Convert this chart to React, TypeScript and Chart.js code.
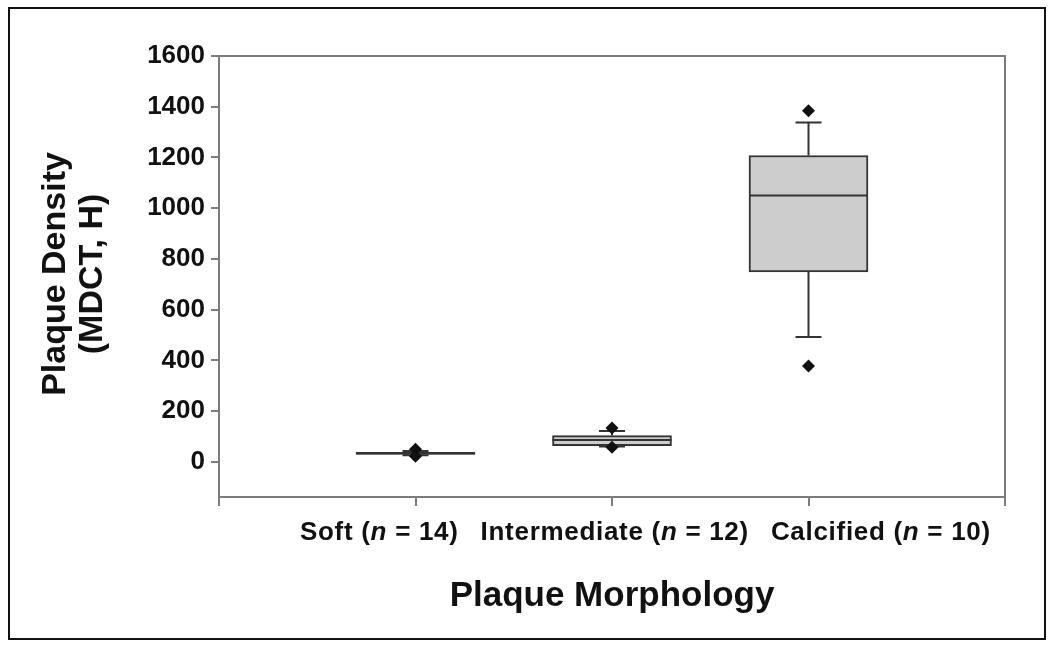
import React, { useEffect, useRef } from 'react';
import { Chart, registerables } from 'chart.js';

Chart.register(...registerables);

// ---- data ----
const categories = ['', 'Soft', 'Intermediate', 'Calcified', ''];
const sampleSizes = [null, 14, 12, 10, null];
const q1Values = [null, 30, 64, 749, null];
const q3Values = [null, 38, 104, 1208, null];
const medianValues = [null, 34, 87, 1050, null];
const whiskerLowValues = [null, 27, 61, 493, null];
const whiskerHighValues = [null, 43, 122, 1338, null];
const outlierCategories = ['Soft', 'Soft', 'Intermediate', 'Intermediate', 'Calcified', 'Calcified'];
const outlierValues = [50, 23, 134, 58, 1384, 378];
const yTickValues = [0, 200, 400, 600, 800, 1000, 1200, 1400, 1600];
const yAxisMin = -138;
const yAxisMax = 1600;
const yTitleLines = ['Plaque Density', '(MDCT, H)'];
const xTitle = 'Plaque Morphology';

const FONT = '"Liberation Sans", Arial, Helvetica, sans-serif';
const AXIS_GREY = '#7c7c7c';
const BOX_EDGE = '#333333';

const boxPlugin = {
  id: 'boxExtras',
  beforeDatasetsDraw(chart: any) {
    const { ctx } = chart;
    const x = chart.scales.x;
    const y = chart.scales.y;
    ctx.save();
    ctx.strokeStyle = BOX_EDGE;
    ctx.lineWidth = 2;
    for (let i = 0; i < categories.length; i++) {
      if (q1Values[i] == null) continue;
      const cx = x.getPixelForValue(i);
      const capHalf = 13;
      const pairs: [number, number][] = [
        [q3Values[i] as number, whiskerHighValues[i] as number],
        [q1Values[i] as number, whiskerLowValues[i] as number],
      ];
      for (const [from, to] of pairs) {
        const y0 = y.getPixelForValue(from);
        const y1 = y.getPixelForValue(to);
        ctx.beginPath();
        ctx.moveTo(cx, y0);
        ctx.lineTo(cx, y1);
        ctx.moveTo(cx - capHalf, y1);
        ctx.lineTo(cx + capHalf, y1);
        ctx.stroke();
      }
    }
    ctx.restore();
  },
  afterDatasetDraw(chart: any, args: any) {
    if (args.index !== 0) return;
    const { ctx } = chart;
    const x = chart.scales.x;
    const y = chart.scales.y;
    const meta = chart.getDatasetMeta(0);
    ctx.save();
    ctx.strokeStyle = BOX_EDGE;
    ctx.lineWidth = 2;
    for (let i = 0; i < categories.length; i++) {
      if (medianValues[i] == null) continue;
      const bar = meta.data[i];
      const half = bar.width / 2;
      const cx = x.getPixelForValue(i);
      const my = y.getPixelForValue(medianValues[i] as number);
      ctx.beginPath();
      ctx.moveTo(cx - half, my);
      ctx.lineTo(cx + half, my);
      ctx.stroke();
    }
    ctx.restore();
  },
  afterDraw(chart: any) {
    const { ctx, chartArea } = chart;
    ctx.save();
    // plot frame top & right
    ctx.strokeStyle = AXIS_GREY;
    ctx.lineWidth = 2;
    ctx.beginPath();
    ctx.moveTo(chartArea.left, chartArea.top);
    ctx.lineTo(chartArea.right, chartArea.top);
    ctx.lineTo(chartArea.right, chartArea.bottom);
    ctx.stroke();

    ctx.fillStyle = '#111111';
    // category labels with italic n
    const size = 26;
    let cursor = chartArea.left + 81;
    const baseY = chartArea.bottom + 43;
    ctx.textBaseline = 'alphabetic';
    ctx.textAlign = 'left';
    (ctx as any).letterSpacing = '0.7px';
    for (let i = 0; i < categories.length; i++) {
      if (!categories[i]) continue;
      const segs: [string, boolean][] = [
        [categories[i] + ' (', false],
        ['n', true],
        [' = ' + sampleSizes[i] + ')', false],
      ];
      for (const [t, it] of segs) {
        ctx.font = `${it ? 'italic ' : ''}bold ${size}px ${FONT}`;
        ctx.fillText(t, cursor, baseY);
        cursor += ctx.measureText(t).width;
      }
      cursor += 22;
    }
    (ctx as any).letterSpacing = '0px';

    // x title
    ctx.font = `bold 35px ${FONT}`;
    ctx.textAlign = 'center';
    ctx.fillText(xTitle, (chartArea.left + chartArea.right) / 2, 606);

    // y title
    ctx.save();
    ctx.translate(0, 274);
    ctx.rotate(-Math.PI / 2);
    ctx.font = `bold 34px ${FONT}`;
    ctx.textAlign = 'center';
    ctx.fillText(yTitleLines[0], 0, 65);
    ctx.fillText(yTitleLines[1], 0, 102);
    ctx.restore();
    ctx.restore();
  },
};

export default function App() {
  const ref = useRef<HTMLCanvasElement | null>(null);
  useEffect(() => {
    if (!ref.current) return;
    const boxData = categories.map((_, i) =>
      q1Values[i] == null ? null : [q1Values[i], q3Values[i]]
    );
    const chart = new Chart(ref.current, {
      type: 'bar',
      data: {
        labels: categories,
        datasets: [
          {
            type: 'bar',
            data: boxData as any,
            backgroundColor: '#cdcdcd',
            borderColor: BOX_EDGE,
            borderWidth: 2,
            borderSkipped: false,
            barThickness: 119,
            order: 1,
          },
          {
            type: 'line',
            data: outlierCategories.map((c, i) => ({ x: c, y: outlierValues[i] })) as any,
            showLine: false,
            pointStyle: 'rectRot',
            pointRadius: 6.5,
            pointBackgroundColor: '#111111',
            pointBorderColor: '#111111',
            pointBorderWidth: 0,
            order: 0,
          },
        ],
      },
      options: {
        responsive: false,
        animation: false,
        layout: { padding: { left: 0, top: 56, right: 45, bottom: 0 } },
        plugins: { legend: { display: false }, tooltip: { enabled: false } },
        scales: {
          x: {
            type: 'category',
            offset: false,
            grid: {
              offset: false,
              drawOnChartArea: false,
              drawTicks: true,
              tickLength: 9,
              color: AXIS_GREY,
              lineWidth: 2,
            },
            border: { color: AXIS_GREY, width: 2 },
            ticks: { callback: () => '', autoSkip: false, maxRotation: 0 },
            afterFit: (s: any) => {
              s.height = 151;
            },
          },
          y: {
            min: yAxisMin,
            max: yAxisMax,
            afterBuildTicks: (s: any) => {
              s.ticks = yTickValues.map((v) => ({ value: v }));
            },
            grid: {
              drawOnChartArea: false,
              drawTicks: true,
              tickLength: 8,
              color: AXIS_GREY,
              lineWidth: 2,
            },
            border: { color: AXIS_GREY, width: 2 },
            ticks: {
              color: '#111111',
              padding: 6,
              font: { family: FONT, size: 26, weight: 'bold' },
              callback: (v: any) => String(v),
            },
            afterFit: (s: any) => {
              s.width = 219;
            },
          },
        },
      },
      plugins: [boxPlugin],
    });
    return () => chart.destroy();
  }, []);

  return (
    <div style={{ position: 'absolute', left: 0, top: 0, width: 1050, height: 648, background: '#fff' }}>
      <div
        style={{
          position: 'absolute',
          left: 8,
          top: 7,
          width: 1034,
          height: 629,
          border: '2px solid #111',
        }}
      />
      <canvas
        ref={ref}
        width={1050}
        height={648}
        style={{ position: 'absolute', left: 0, top: 0 }}
      />
    </div>
  );
}
